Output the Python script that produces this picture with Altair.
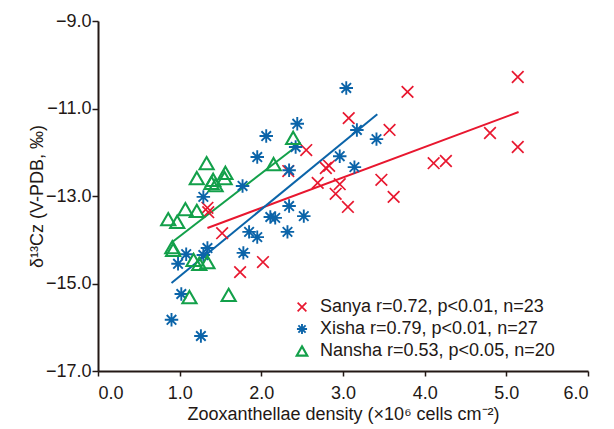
import altair as alt
import pandas as pd

# ---- data ----
sanya_x = [5.14, 3.79, 3.07, 3.57, 2.55, 4.80, 5.14, 4.11, 4.26, 2.79, 2.83, 2.33,
           2.69, 2.96, 2.91, 3.06, 3.47, 3.62, 1.34, 1.52, 1.74, 2.02, 1.35]
sanya_y = [-10.28, -10.62, -11.22, -11.49, -11.95, -11.56, -11.88, -12.25, -12.20, -12.36,
           -12.31, -12.43, -12.70, -12.73, -12.95, -13.25, -12.63, -13.02, -13.27, -13.85,
           -14.74, -14.51, -13.37]

xisha_x = [3.04, 2.44, 2.06, 3.17, 3.41, 2.42, 1.95, 2.96, 3.14, 2.34, 1.77, 1.29, 2.34,
           2.52, 2.11, 2.17, 1.85, 1.95, 2.32, 1.78, 1.34, 1.29, 1.08, 0.98, 1.02, 0.90, 1.26]
xisha_y = [-10.53, -11.35, -11.63, -11.49, -11.70, -11.88, -12.11, -12.09, -12.34, -12.41,
           -12.77, -13.02, -13.23, -13.46, -13.48, -13.50, -13.82, -13.94, -13.82, -14.30,
           -14.19, -14.35, -14.33, -14.55, -15.24, -15.83, -16.20]

nansha_x = [2.39, 2.15, 1.33, 1.21, 1.41, 1.44, 1.56, 1.55, 1.07, 1.21, 0.86, 0.97, 0.91,
            0.92, 1.17, 1.24, 1.34, 1.12, 1.60, 1.39]
nansha_y = [-11.67, -12.27, -12.25, -12.59, -12.63, -12.75, -12.47, -12.59, -13.30, -13.34,
            -13.53, -13.59, -14.17, -14.23, -14.46, -14.55, -14.51, -15.31, -15.26, -12.70]

# fitted line end points
fit_x = {"Sanya": [1.34, 5.15], "Xisha": [0.90, 3.42], "Nansha": [0.91, 2.42]}
fit_y = {"Sanya": [-13.73, -11.08], "Xisha": [-14.99, -11.13], "Nansha": [-14.05, -11.88]}

sites = ["Sanya", "Xisha", "Nansha"]
legend_labels = ["Sanya r=0.72, p<0.01, n=23",
                 "Xisha r=0.79, p<0.01, n=27",
                 "Nansha r=0.53, p<0.05, n=20"]
colors = ["#E8172F", "#0B64A9", "#13A04A"]
shapes = ["M-0.95,-0.95L0.95,0.95M-0.95,0.95L0.95,-0.95",
          "M0,-1.1L0,1.1M-1.1,0L1.1,0M-0.78,-0.78L0.78,0.78M-0.78,0.78L0.78,-0.78",
          "M0,-1L1.15,1L-1.15,1Z"]
marker_strokes = [1.7, 2.1, 1.6]

xs = {"Sanya": sanya_x, "Xisha": xisha_x, "Nansha": nansha_x}
ys = {"Sanya": sanya_y, "Xisha": xisha_y, "Nansha": nansha_y}

rows = []
for s, lab in zip(sites, legend_labels):
    for a, b in zip(xs[s], ys[s]):
        rows.append({"x": a, "y": b, "group": lab})
pts = pd.DataFrame(rows)

lrows = []
for s, lab, c in zip(sites, legend_labels, colors):
    for a, b in zip(fit_x[s], fit_y[s]):
        lrows.append({"x": a, "y": b, "line": lab, "col": c})
lines = pd.DataFrame(lrows)

FONT = "Liberation Sans"
TXT = "#231815"

xenc = alt.X("x:Q", scale=alt.Scale(domain=[0, 6], nice=False),
             axis=alt.Axis(values=[0, 1, 2, 3, 4, 5, 6], format=".1f", grid=False,
                           title="Zooxanthellae density (×10⁶ cells cm⁻²)",
                           titlePadding=3, titleFontSize=18, labelPadding=8))
yenc = alt.Y("y:Q", scale=alt.Scale(domain=[-17, -9], nice=False, zero=False),
             axis=alt.Axis(values=[-17, -15, -13, -11, -9], format=".1f", grid=False,
                           title="δ¹³Cz (V-PDB, ‰)", titlePadding=3, titleFontSize=18,
                           titleBaseline="alphabetic",
                           labelPadding=1, tickSize=6))

line_layer = alt.Chart(lines).mark_line(strokeWidth=2).encode(
    x=xenc, y=yenc,
    stroke=alt.Stroke("col:N", scale=None),
    detail="line:N",
)

point_layer = alt.Chart(pts).mark_point(filled=False, opacity=1, size=150).encode(
    x=xenc, y=yenc,
    color=alt.Color("group:N", scale=alt.Scale(domain=legend_labels, range=colors),
                    legend=alt.Legend(title=None, orient="none", legendX=195, legendY=277,
                                      labelFontSize=18, labelFont=FONT, labelColor=TXT,
                                      symbolSize=85, symbolStrokeWidth=1.8, rowPadding=4,
                                      labelLimit=400, labelOffset=9)),
    shape=alt.Shape("group:N", scale=alt.Scale(domain=legend_labels, range=shapes)),
    strokeWidth=alt.StrokeWidth("group:N",
                                scale=alt.Scale(domain=legend_labels, range=marker_strokes),
                                legend=None),
)

chart = (line_layer + point_layer).properties(
    width=490, height=350,
    autosize=alt.AutoSizeParams(type="none"),
    padding={"left": 90, "top": 13, "right": 16, "bottom": 58},
).configure_view(stroke=None).configure_axis(
    domainColor=TXT, domainWidth=2, tickColor=TXT, tickWidth=1.5, tickSize=5,
    labelFont=FONT, labelFontSize=18, labelColor=TXT,
    titleFont=FONT, titleColor=TXT, titleFontWeight="normal",
)

chart.save("out.html", embed_options={"renderer": "svg", "actions": False})
